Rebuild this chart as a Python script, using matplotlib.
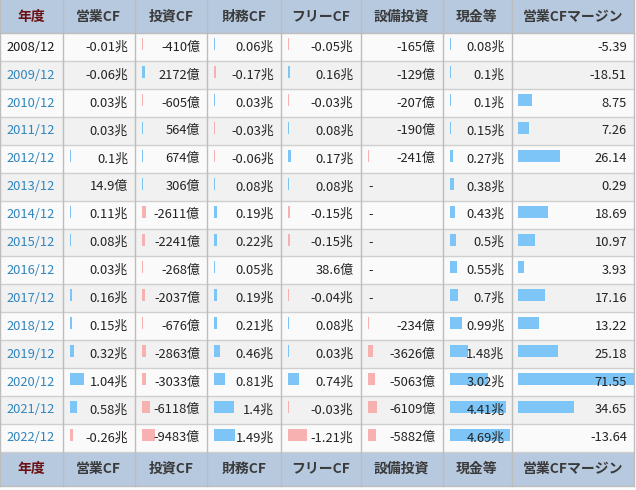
import matplotlib
matplotlib.use("Agg")
import matplotlib.pyplot as plt
from matplotlib.patches import Rectangle

plt.rcParams['font.family'] = ['Noto Sans CJK JP', 'DejaVu Sans']

# ---------------- data ----------------
years = ["2008/12", "2009/12", "2010/12", "2011/12", "2012/12", "2013/12", "2014/12",
         "2015/12", "2016/12", "2017/12", "2018/12", "2019/12", "2020/12", "2021/12", "2022/12"]
headers = ["年度", "営業CF", "投資CF", "財務CF", "フリーCF", "設備投資", "現金等", "営業CFマージン"]

op_cf = ["-0.01兆", "-0.06兆", "0.03兆", "0.03兆", "0.1兆", "14.9億", "0.11兆", "0.08兆",
         "0.03兆", "0.16兆", "0.15兆", "0.32兆", "1.04兆", "0.58兆", "-0.26兆"]
inv_cf = ["-410億", "2172億", "-605億", "564億", "674億", "306億", "-2611億", "-2241億",
          "-268億", "-2037億", "-676億", "-2863億", "-3033億", "-6118億", "-9483億"]
fin_cf = ["0.06兆", "-0.17兆", "0.03兆", "-0.03兆", "-0.06兆", "0.08兆", "0.19兆", "0.22兆",
          "0.05兆", "0.19兆", "0.21兆", "0.46兆", "0.81兆", "1.4兆", "1.49兆"]
free_cf = ["-0.05兆", "0.16兆", "-0.03兆", "0.08兆", "0.17兆", "0.08兆", "-0.15兆", "-0.15兆",
           "38.6億", "-0.04兆", "0.08兆", "0.03兆", "0.74兆", "-0.03兆", "-1.21兆"]
capex = ["-165億", "-129億", "-207億", "-190億", "-241億", "-", "-", "-", "-", "-",
         "-234億", "-3626億", "-5063億", "-6109億", "-5882億"]
cash = ["0.08兆", "0.1兆", "0.1兆", "0.15兆", "0.27兆", "0.38兆", "0.43兆", "0.5兆",
        "0.55兆", "0.7兆", "0.99兆", "1.48兆", "3.02兆", "4.41兆", "4.69兆"]
op_margin = [-5.39, -18.51, 8.75, 7.26, 26.14, 0.29, 18.69, 10.97, 3.93, 17.16, 13.22,
             25.18, 71.55, 34.65, -13.64]

money_cols = [op_cf, inv_cf, fin_cf, free_cf, capex, cash]


def to_cho(s):
    if s == "-":
        return None
    if s.endswith("兆"):
        return float(s[:-1])
    if s.endswith("億"):
        return float(s[:-1]) / 10000.0
    return float(s)


# ---------------- layout / style ----------------
W, H = 636, 490
col_edges = [0, 62.5, 135, 207, 281, 360.5, 442.5, 511.5, 634]
head_h = 33.3
row_h = 27.9
foot_h = 34
px_per_cho = [13.6, 13.7, 14.1, 15.3, 15.2, 12.8]
min_visible = [0.9, 0.35, 0.35, 0.35, 0.35, 0.35]
bar_pad = 7
bar_h = 12
header_bg = "#b7c9df"
row_bg = ["#fafafa", "#f1f1f1"]
grid_v = "#bdbdbd"
grid_h = "#cfcfcf"
pos_c = "#7cc5f6"
neg_c = "#f7b1b1"
fs = 9.3
hfs = 10

fig = plt.figure(figsize=(W / 100, H / 100), dpi=100)
ax = fig.add_axes([0, 0, 1, 1])
ax.set_xlim(0, W)
ax.set_ylim(H, 0)
ax.axis("off")

tbl_r = col_edges[-1]
n = len(years)
body_top = head_h
foot_top = body_top + n * row_h

# header and footer bands
for top, hh in ((0, head_h), (foot_top, foot_h)):
    ax.add_patch(Rectangle((0, top), tbl_r, hh, facecolor=header_bg, edgecolor="none", zorder=1))
    for j, h in enumerate(headers):
        cx = (col_edges[j] + col_edges[j + 1]) / 2
        ax.text(cx, top + hh / 2, h, ha="center", va="center", fontsize=hfs, fontweight="bold",
                color="#6a0f12" if j == 0 else "#3a3a3a", zorder=5)

# body rows
for i in range(n):
    top = body_top + i * row_h
    ax.add_patch(Rectangle((0, top), tbl_r, row_h, facecolor=row_bg[i % 2], edgecolor="none", zorder=1))
    ax.plot([0, tbl_r], [top + row_h, top + row_h], color=grid_h, lw=1, zorder=2)

# vertical grid lines
for x in col_edges:
    ax.plot([x, x], [0, foot_top + foot_h], color=grid_v, lw=1, zorder=2)
ax.plot([0, tbl_r], [head_h, head_h], color=grid_v, lw=1, zorder=2)
ax.plot([0, tbl_r], [foot_top + foot_h, foot_top + foot_h], color=grid_v, lw=1, zorder=2)

# years
for i, y in enumerate(years):
    cy = body_top + (i + 0.5) * row_h
    ax.text(col_edges[0] + 6.5, cy, y, ha="left", va="center", fontsize=fs,
            color="#1a1a1a" if i == 0 else "#2f86bd", zorder=5)

# money columns
for c, (col, scale, mv) in enumerate(zip(money_cols, px_per_cho, min_visible)):
    left = col_edges[c + 1]
    right = col_edges[c + 2]
    for i, s in enumerate(col):
        cy = body_top + (i + 0.5) * row_h
        v = to_cho(s)
        if v is None:
            ax.text(left + 8, cy, s, ha="left", va="center", fontsize=fs, color="#222222", zorder=5)
            continue
        w = abs(v) * scale
        if w >= mv:
            ax.barh(cy - 3, max(w, 1.0), height=bar_h, left=left + bar_pad,
                    color=pos_c if v > 0 else neg_c, zorder=3)
        ax.text(right - 7, cy, s, ha="right", va="center", fontsize=fs, color="#222222", zorder=5)

# margin column
left, right = col_edges[7], col_edges[8]
m_scale = (right - left - 6) / max(op_margin)
for i, v in enumerate(op_margin):
    cy = body_top + (i + 0.5) * row_h
    w = v * m_scale
    if w >= 1.0:
        ax.barh(cy - 3, w, height=bar_h, left=left + 6, color=pos_c, zorder=3)
    ax.text(right - 7, cy, f"{v:.2f}", ha="right", va="center", fontsize=fs, color="#222222", zorder=5)

fig.savefig("out.png", dpi=100)
